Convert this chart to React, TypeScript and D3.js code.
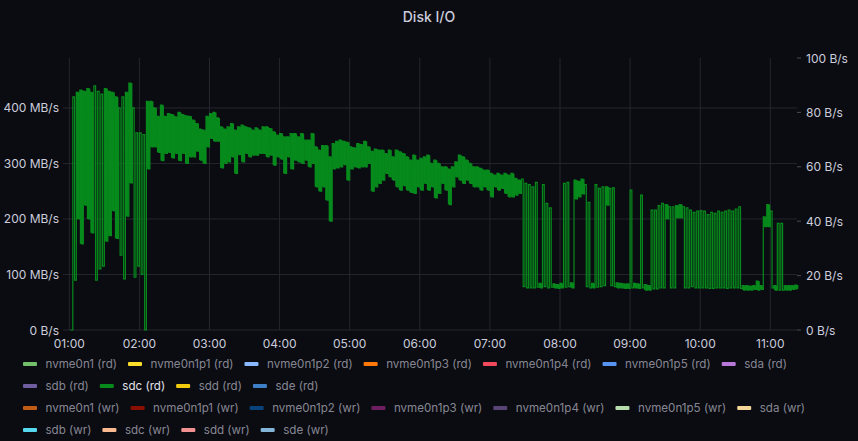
import * as d3 from "d3";
import React from "react";

const WIDTH = 858;
const HEIGHT = 441;

// sdc (rd) in MB/s, one low and one high reading per 3-minute slot from 01:00
const SLOT_MINUTES = 3;
const sdcReadLow = [
  // 01:00
  0, 90, 200, 155, 225, 200, 175, 90, 110, 115, 160, 170, 215, 165, 135, 92, 205, 265, 95, 115,
  // 02:00
  100, 0, 290, 330, 330, 320, 305, 318, 320, 310, 318, 305, 318, 300, 312, 312, 322, 306, 300, 330,
  // 03:00
  345, 340, 340, 292, 300, 303, 312, 282, 316, 303, 318, 312, 315, 315, 318, 318, 312, 315, 297, 312,
  // 04:00
  308, 282, 312, 290, 306, 303, 300, 306, 294, 300, 258, 250, 258, 234, 196, 290, 292, 294, 298, 270,
  // 05:00
  290, 294, 292, 294, 294, 300, 250, 258, 264, 270, 282, 276, 270, 258, 252, 260, 252, 248, 246, 258,
  // 06:00
  252, 264, 252, 258, 238, 246, 264, 252, 226, 258, 276, 270, 264, 270, 264, 258, 258, 252, 258, 252,
  // 07:00
  240, 258, 252, 255, 246, 240, 240, 243, 246, 78, 76, 76, 76, 77, 76, 78, 76, 77, 76, 75,
  // 08:00
  76, 77, 78, 76, 236, 240, 245, 78, 76, 76, 77, 78, 80, 225, 80, 78, 76, 76, 75, 75,
  // 09:00
  76, 76, 75, 76, 72, 72, 74, 74, 76, 76, 200, 76, 76, 202, 202, 76, 76, 78, 76, 76,
  // 10:00
  76, 76, 75, 75, 76, 76, 76, 75, 76, 76, 76, 75, 72, 72, 72, 73, 72, 73, 186, 186,
  // 11:00
  76, 72, 72, 72, 72, 72, 73, 74,
];
const sdcReadHigh = [
  // 01:00
  0, 420, 428, 432, 430, 435, 428, 440, 430, 425, 435, 430, 428, 420, 400, 420, 428, 445, 400, 355,
  // 02:00
  355, 352, 412, 412, 400, 385, 405, 385, 390, 388, 384, 392, 388, 386, 385, 378, 372, 362, 360, 385,
  // 03:00
  390, 392, 382, 366, 362, 366, 372, 360, 366, 369, 366, 364, 360, 364, 360, 366, 366, 363, 357, 351,
  // 04:00
  354, 348, 348, 354, 354, 348, 354, 342, 342, 354, 330, 324, 332, 332, 312, 336, 340, 342, 340, 338,
  // 05:00
  330, 328, 336, 334, 340, 330, 322, 326, 324, 324, 318, 324, 312, 324, 321, 318, 312, 306, 315, 306,
  // 06:00
  309, 312, 315, 300, 306, 300, 294, 294, 290, 294, 303, 315, 312, 306, 300, 294, 294, 291, 288, 288,
  // 07:00
  282, 279, 282, 279, 282, 279, 282, 273, 270, 272, 264, 262, 258, 266, 84, 262, 228, 220, 83, 82,
  // 08:00
  84, 264, 266, 85, 270, 268, 272, 262, 230, 84, 262, 255, 258, 258, 255, 256, 85, 84, 83, 83,
  // 09:00
  252, 84, 83, 243, 82, 80, 216, 216, 224, 228, 226, 222, 222, 224, 226, 222, 220, 216, 212, 214,
  // 10:00
  215, 214, 208, 212, 210, 214, 212, 214, 216, 214, 218, 222, 80, 80, 79, 80, 88, 80, 204, 226,
  // 11:00
  214, 80, 192, 192, 80, 80, 80, 81,
];

const leftTicks = [0, 100, 200, 300, 400];
const rightTicks = [0, 20, 40, 60, 80, 100];

const readSeries = [
  "nvme0n1 (rd)", "nvme0n1p1 (rd)", "nvme0n1p2 (rd)", "nvme0n1p3 (rd)", "nvme0n1p4 (rd)",
  "nvme0n1p5 (rd)", "sda (rd)", "sdb (rd)", "sdc (rd)", "sdd (rd)", "sde (rd)",
];
const readColors = [
  "#73BF69", "#FADE2A", "#8AB8FF", "#FF780A", "#F2495C",
  "#5794F2", "#B877D9", "#705DA0", "#078A1C", "#F2CC0C", "#3D80C8",
];
const writeSeries = [
  "nvme0n1 (wr)", "nvme0n1p1 (wr)", "nvme0n1p2 (wr)", "nvme0n1p3 (wr)", "nvme0n1p4 (wr)",
  "nvme0n1p5 (wr)", "sda (wr)", "sdb (wr)", "sdc (wr)", "sdd (wr)", "sde (wr)",
];
const writeColors = [
  "#C15C17", "#890F02", "#0A437C", "#6D1F62", "#584477",
  "#B7DBAB", "#F4D598", "#56D9EE", "#F9BA8F", "#F29191", "#82B5D8",
];

const FONT = "Inter, 'Noto Sans', sans-serif";
const BG = "#0b0c12";
const GRID = "#25262d";
const TEXT = "#ccccdc";
const LEGEND_SIZE = 11.6;

const plot = { left: 63, right: 797, top: 58, bottom: 330 };

const day = (h: number, m: number, s = 0) => new Date(2024, 0, 1, h, m, s);

const measureText = (() => {
  let ctx: CanvasRenderingContext2D | null = null;
  return (s: string) => {
    if (!ctx) {
      ctx = document.createElement("canvas").getContext("2d");
      if (ctx) ctx.font = `${LEGEND_SIZE}px Inter`;
    }
    return ctx ? ctx.measureText(s).width : s.length * 6.3;
  };
})();

const App = () => {
  const x = d3
    .scaleTime()
    .domain([day(0, 54, 36), day(11, 22, 51)])
    .range([plot.left, plot.right]);
  const yLeft = d3.scaleLinear().domain([0, 490]).range([plot.bottom, plot.top]);
  const yRight = d3.scaleLinear().domain([0, 100]).range([plot.bottom, plot.top]);

  const start = day(1, 0);
  const slotMs = SLOT_MINUTES * 60000;
  const points: [Date, number][] = [];
  sdcReadLow.forEach((lo, i) => {
    const t0 = +start + i * slotMs;
    points.push([new Date(t0 + 45000), sdcReadHigh[i]]);
    points.push([new Date(t0 + 135000), lo]);
  });

  // slots that stay in one regime are drawn as a solid min..max column,
  // spiky slots only get the line
  const bands = sdcReadLow
    .map((lo, i) => ({ i, lo, hi: sdcReadHigh[i] }))
    .filter((s) => s.hi > 0 && (s.lo >= 150 || s.hi <= 100));

  const line = d3
    .line<[Date, number]>()
    .x((d) => x(d[0]))
    .y((d) => yLeft(d[1]))
    .curve(d3.curveStep);

  const hours = x.ticks(d3.timeHour.every(1) as d3.TimeInterval);
  const fmt = d3.timeFormat("%H:%M");

  // legend layout, grouped by axis like grafana
  const legendItems: { name: string; color: string; x: number; y: number; active: boolean }[] = [];
  let row = 0;
  const placeGroup = (names: string[], colors: string[]) => {
    let cx = 23;
    names.forEach((name, i) => {
      const w = 22.5 + measureText(name);
      if (cx + w > 850) {
        row += 1;
        cx = 23;
      }
      legendItems.push({ name, color: colors[i], x: cx, y: 364 + row * 22, active: name === "sdc (rd)" });
      cx += w + 11;
    });
    row += 1;
  };
  placeGroup(readSeries, readColors);
  placeGroup(writeSeries, writeColors);

  const green = readColors[8];

  return (
    <svg
      width={WIDTH}
      height={HEIGHT}
      style={{ position: "fixed", left: 0, top: 0, background: BG, fontFamily: FONT }}
    >
      <rect width={WIDTH} height={HEIGHT} fill={BG} />
      <text x={429} y={16} fill={TEXT} fontSize={14} fontWeight={500} textAnchor="middle" dominantBaseline="central">
        Disk I/O
      </text>

      {/* grid */}
      {leftTicks.map((t) => (
        <line key={"h" + t} x1={plot.left} x2={plot.right} y1={yLeft(t)} y2={yLeft(t)} stroke={GRID} />
      ))}
      {hours.map((h) => (
        <line key={"v" + +h} x1={x(h)} x2={x(h)} y1={plot.top} y2={plot.bottom} stroke={GRID} />
      ))}

      {/* left axis */}
      {leftTicks.map((t) => (
        <text key={"l" + t} x={59} y={yLeft(t)} fill={TEXT} fontSize={12} textAnchor="end" dominantBaseline="central">
          {t === 0 ? "0 B/s" : `${t} MB/s`}
        </text>
      ))}

      {/* right axis */}
      {rightTicks.map((t) => (
        <g key={"r" + t}>
          <line x1={797} x2={801} y1={yRight(t)} y2={yRight(t)} stroke="#4a4b52" />
          <text x={806} y={yRight(t)} fill={TEXT} fontSize={12} dominantBaseline="central">
            {`${t} B/s`}
          </text>
        </g>
      ))}

      {/* time axis */}
      {hours.map((h) => (
        <text key={"t" + +h} x={x(h)} y={343} fill={TEXT} fontSize={12} textAnchor="middle" dominantBaseline="central">
          {fmt(h)}
        </text>
      ))}

      {bands.map((s) => {
        const t0 = +start + s.i * slotMs;
        const x0 = x(new Date(t0));
        const x1 = x(new Date(t0 + slotMs));
        return (
          <rect
            key={"b" + s.i}
            x={x0}
            width={x1 - x0}
            y={yLeft(s.hi)}
            height={yLeft(s.lo) - yLeft(s.hi)}
            fill={green}
          />
        );
      })}
      <path d={line(points) ?? ""} fill="none" stroke={green} strokeWidth={1.2} />

      {/* legend */}
      {legendItems.map((it) => (
        <g key={it.name}>
          <rect x={it.x} y={it.y - 2} width={14} height={4} rx={1} fill={it.color} />
          <text
            x={it.x + 22.5}
            y={it.y}
            fill={it.active ? "#e2e2ea" : "rgba(204,204,220,0.65)"}
            fontSize={LEGEND_SIZE}
            dominantBaseline="central"
          >
            {it.name}
          </text>
        </g>
      ))}
    </svg>
  );
};

export default App;
